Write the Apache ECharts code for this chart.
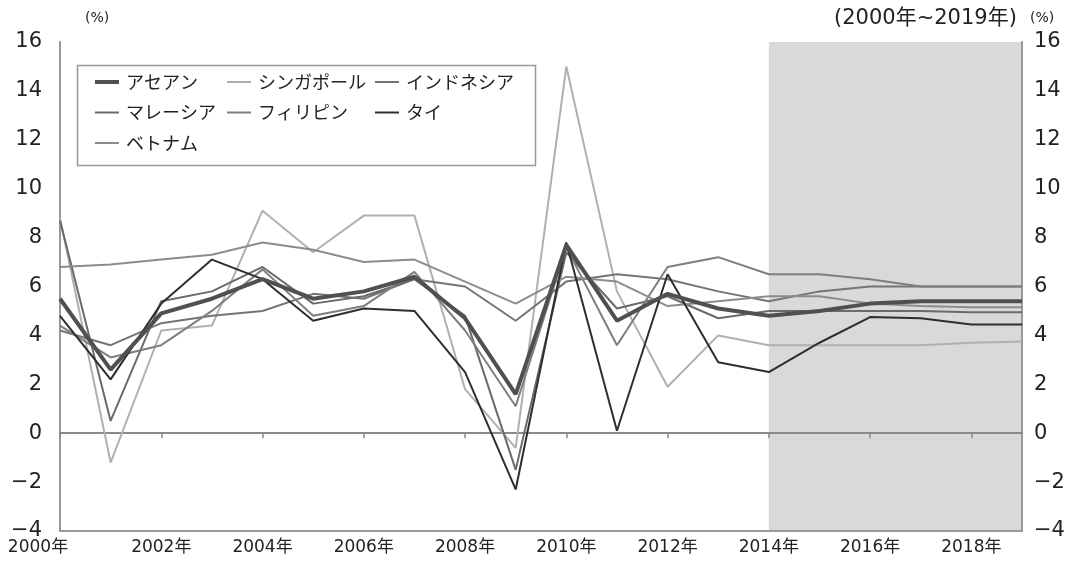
<!DOCTYPE html>
<html><head><meta charset="utf-8">
<script src="https://cdn.jsdelivr.net/npm/echarts@6/dist/echarts.min.js"></script>
<style>html,body{margin:0;padding:0;background:#fff}#c{width:1068px;height:563px}</style>
</head><body><div id="c"></div>
<script>
const years = ['2000','2001','2002','2003','2004','2005','2006','2007','2008','2009','2010','2011','2012','2013','2014','2015','2016','2017','2018','2019'];
const yTicks = [-4,-2,0,2,4,6,8,10,12,14,16];
const asean     = [5.5,2.6,4.9,5.5,6.3,5.5,5.8,6.4,4.7,1.6,7.7,4.6,5.7,5.1,4.8,5.0,5.3,5.4,5.4,5.4];
const singapore = [8.8,-1.2,4.2,4.4,9.1,7.4,8.9,8.9,1.8,-0.6,15.0,5.8,1.9,4.0,3.6,3.6,3.6,3.6,3.7,3.75];
const indonesia = [4.2,3.6,4.5,4.8,5.0,5.7,5.5,6.3,6.0,4.6,6.2,6.5,6.3,5.8,5.4,5.8,6.0,6.0,6.0,6.0];
const malaysia  = [8.7,0.5,5.4,5.8,6.8,5.3,5.6,6.3,4.8,-1.5,7.4,5.1,5.6,4.7,5.0,5.0,5.0,5.0,4.95,4.95];
const philippines = [4.4,3.1,3.6,5.0,6.7,4.8,5.2,6.6,4.2,1.1,7.6,3.6,6.8,7.2,6.5,6.5,6.3,6.0,6.0,6.0];
const thailand  = [4.8,2.2,5.3,7.1,6.3,4.6,5.1,5.0,2.5,-2.3,7.8,0.1,6.5,2.9,2.5,3.7,4.75,4.7,4.45,4.45];
const vietnam   = [6.8,6.9,7.1,7.3,7.8,7.5,7.0,7.1,6.2,5.3,6.4,6.2,5.2,5.4,5.6,5.6,5.3,5.2,5.15,5.15];
const names = ['アセアン','シンガポール','インドネシア','マレーシア','フィリピン','タイ','ベトナム'];
const forecastRange = ['2014','2019'];

const FONT = '"Noto Sans CJK JP", "Noto Sans", sans-serif';
const NUMFONT = '"DejaVu Sans", "Noto Sans CJK JP", sans-serif';
const chart = echarts.init(document.getElementById('c'));
const seriesDefs = [
  [names[0], asean, '#505050', 4],
  [names[1], singapore, '#b0b0b0', 2],
  [names[2], indonesia, '#747474', 2],
  [names[3], malaysia, '#6a6a6a', 2],
  [names[4], philippines, '#7e7e7e', 2],
  [names[5], thailand, '#2e2e2e', 2],
  [names[6], vietnam, '#8c8c8c', 2]
];
const widthOf = {};
seriesDefs.forEach(d => { widthOf[d[0]] = d[3]; });
const series = [{
  type: 'line', data: [], z: 0, silent: true,
  markArea: { silent: true, z: 0, itemStyle: { color: '#d9d9d9' },
    data: [[{ xAxis: forecastRange[0] }, { xAxis: forecastRange[1] }]] }
}];
const order = [1,2,3,4,6,5,0];
order.forEach(i => {
  const d = seriesDefs[i];
  series.push({ name: d[0], type: 'line', data: d[1], symbol: 'none', z: 3,
    lineStyle: { color: d[2], width: d[3] }, itemStyle: { color: d[2] } });
});
const legendItems = list => list.map(n => ({ name: n, lineStyle: { width: widthOf[n] } }));
const legendCommon = { orient: 'vertical', top: 73, padding: 0, itemGap: 12.5, itemWidth: 24, itemHeight: 14,
  itemStyle: { opacity: 0 },
  textStyle: { fontSize: 18, color: '#222', fontFamily: FONT, padding: [0,0,0,2] } };
chart.setOption({
  animation: false,
  textStyle: { fontFamily: FONT },
  grid: { left: 60, right: 46, top: 42, bottom: 32 },
  legend: [
    Object.assign({ left: 93, data: legendItems([names[0], names[3], names[6]]) }, legendCommon),
    Object.assign({ left: 226, data: legendItems([names[1], names[4]]) }, legendCommon),
    Object.assign({ left: 374, data: legendItems([names[2], names[5]]) }, legendCommon)
  ],
  graphic: [
    { type: 'rect', left: 75, top: 63, shape: { width: 458, height: 100 }, z: 10,
      style: { fill: 'none', stroke: '#999', lineWidth: 1.5 } },
    { type: 'text', left: 85, top: 11, style: { text: '(%)', fontSize: 14, fill: '#222', fontFamily: NUMFONT } },
    { type: 'text', left: 834, top: 8, style: { text: '(2000年~2019年)', fontSize: 21, fill: '#222', fontFamily: NUMFONT } },
    { type: 'text', left: 1030, top: 11, style: { text: '(%)', fontSize: 14, fill: '#222', fontFamily: NUMFONT } }
  ],
  xAxis: [{
    type: 'category', data: years, boundaryGap: false, position: 'bottom', z: 2,
    axisLine: { onZero: false, lineStyle: { color: '#999', width: 2 } },
    axisTick: { show: false },
    axisLabel: { interval: 1, fontSize: 17, color: '#222', margin: 8, fontFamily: NUMFONT,
      formatter: (v, i) => i === 0 ? '{f|' + v + '年}' : v + '年',
      rich: { f: { fontSize: 17, color: '#222', fontFamily: NUMFONT, padding: [0, 44, 0, 0] } } },
    splitLine: { show: false }
  }, {
    type: 'category', data: years, boundaryGap: false, z: 2,
    axisLine: { onZero: true, lineStyle: { color: '#8a8a8a', width: 2 } },
    axisTick: { show: true, inside: true, interval: 1, length: 5, lineStyle: { color: '#8a8a8a', width: 1.5 } },
    axisLabel: { show: false }, splitLine: { show: false }
  }],
  yAxis: [{
    type: 'value', min: yTicks[0], max: yTicks[yTicks.length-1], interval: 2, position: 'left', z: 2,
    axisLine: { show: true, onZero: false, lineStyle: { color: '#999', width: 2 } },
    axisTick: { show: false }, splitLine: { show: false },
    axisLabel: { fontSize: 21, color: '#222', margin: 18, fontFamily: NUMFONT, formatter: v => v < 0 ? '−' + Math.abs(v) : String(v) }
  }, {
    type: 'value', min: yTicks[0], max: yTicks[yTicks.length-1], interval: 2, position: 'right', z: 2,
    axisLine: { show: true, onZero: false, lineStyle: { color: '#999', width: 2 } },
    axisTick: { show: false }, splitLine: { show: false },
    axisLabel: { fontSize: 21, color: '#222', margin: 12, fontFamily: NUMFONT, formatter: v => v < 0 ? '−' + Math.abs(v) : String(v) }
  }],
  series: series
});
</script></body></html>
